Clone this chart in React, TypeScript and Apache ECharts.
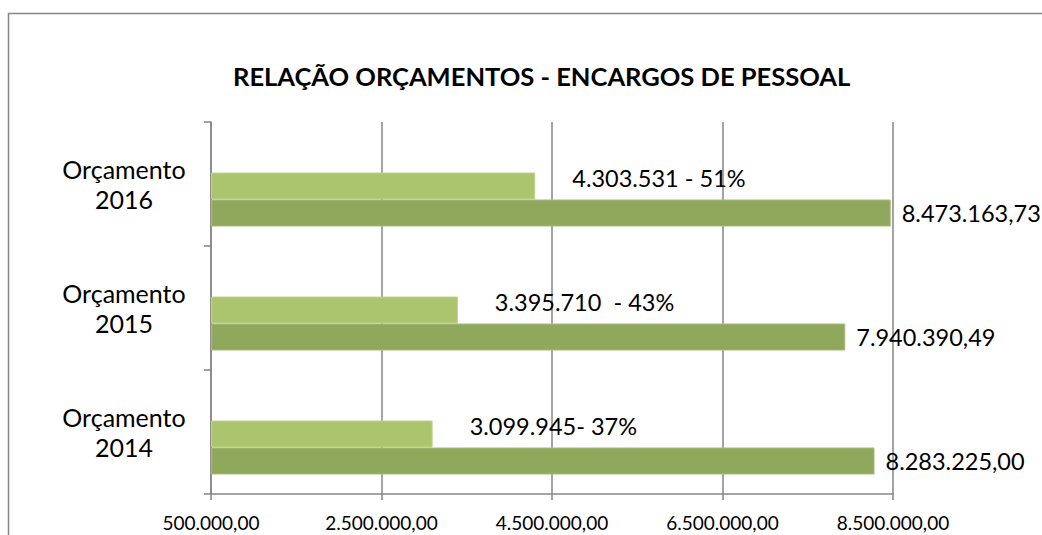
import React, { useEffect, useRef } from "react";
import * as echarts from "echarts";

const categories = ["Orçamento\n2014", "Orçamento\n2015", "Orçamento\n2016"];
const encargos = [3099945, 3395710, 4303531];
const encargosLabels = ["3.099.945- 37%", "3.395.710  - 43%", "4.303.531 - 51%"];
const orcamentos = [8283225.0, 7940390.49, 8473163.73];
const axisStart = 500000;
const axisEnd = 8500000;
const axisStep = 2000000;

const FONT = "Lato, 'Open Sans', sans-serif";

function fmt(v: number, dec: number): string {
  const s = v.toFixed(dec);
  const [i, d] = s.split(".");
  const ii = i.replace(/\B(?=(\d{3})+(?!\d))/g, ".");
  return d ? ii + "," + d : ii;
}

export default function App() {
  const ref = useRef<HTMLDivElement>(null);
  useEffect(() => {
    if (!ref.current) return;
    const chart = echarts.init(ref.current, undefined, { renderer: "svg" });
    const gray = "#868686";
    chart.setOption({
      animation: false,
      backgroundColor: "#ffffff",
      textStyle: { fontFamily: FONT, color: "#000" },
      title: {
        text: "RELAÇÃO ORÇAMENTOS - ENCARGOS DE PESSOAL",
        left: 228,
        top: 58,
        textStyle: { fontFamily: FONT, fontSize: 25.5, fontWeight: "bold", color: "#000" },
      },
      graphic: [
        {
          type: "rect",
          shape: { x: 8.5, y: 13.5, width: 1100, height: 600 },
          style: { fill: "none", stroke: gray, lineWidth: 1.5 },
          silent: true,
        },
      ],
      grid: { left: 211, right: 149, top: 122, bottom: 41, containLabel: false },
      xAxis: {
        type: "value",
        min: 0,
        max: axisEnd - axisStart,
        interval: axisStep,
        axisLine: { show: true, lineStyle: { color: gray, width: 1.5 } },
        axisTick: { show: true, length: 6, lineStyle: { color: gray, width: 1.5 } },
        splitLine: { show: true, lineStyle: { color: gray, width: 1.5 } },
        axisLabel: {
          margin: 19,
          fontFamily: FONT,
          fontSize: 19,
          color: "#000",
          formatter: (v: number) => fmt(v + axisStart, 2),
        },
      },
      yAxis: {
        type: "category",
        data: categories,
        axisLine: { show: true, lineStyle: { color: gray, width: 1.5 } },
        axisTick: { show: true, length: 7, alignWithLabel: false, lineStyle: { color: gray, width: 1.5 } },
        axisLabel: {
          margin: 87,
          align: "center",
          fontFamily: FONT,
          fontSize: 25,
          lineHeight: 30,
          color: "#000",
        },
      },
      series: [
        {
          type: "bar",
          name: "spacer",
          data: ["-", "-", "-"],
          barWidth: 31,
          barGap: "0%",
          silent: true,
          itemStyle: { color: "transparent" },
        },
        {
          type: "bar",
          name: "Encargos",
          data: encargos.map((v) => v - axisStart),
          barWidth: 27,
          barGap: "0%",
          itemStyle: { color: "#abc46e", borderColor: "#c0d38f", borderWidth: 1 },
          label: {
            show: true,
            position: "right",
            distance: 37,
            offset: [0, -8],
            fontFamily: FONT,
            fontSize: 23.5,
            color: "#000",
            formatter: (p: any) => encargosLabels[p.dataIndex],
          },
        },
        {
          type: "bar",
          name: "Orçamento",
          data: orcamentos.map((v) => v - axisStart),
          barWidth: 27,
          barGap: "0%",
          itemStyle: { color: "#8fa85b", borderColor: "#a6bb7c", borderWidth: 1 },
          label: {
            show: true,
            position: "right",
            distance: 11,
            fontFamily: FONT,
            fontSize: 23.5,
            color: "#000",
            formatter: (p: any) => fmt(orcamentos[p.dataIndex], 2),
          },
        },
      ],
    });
    return () => chart.dispose();
  }, []);
  return (
    <div
      ref={ref}
      style={{ position: "absolute", left: 0, top: 0, width: 1042, height: 535 }}
    />
  );
}
